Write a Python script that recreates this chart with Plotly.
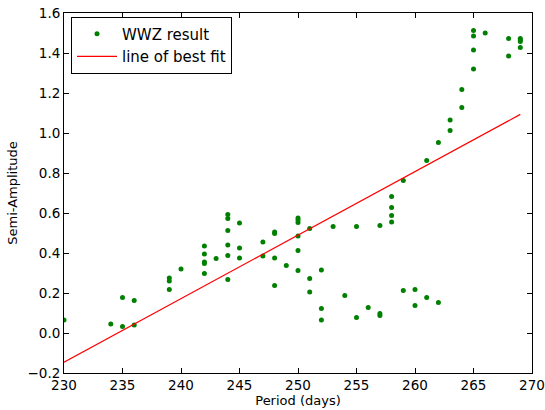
import plotly.graph_objects as go

period = [230, 234, 235, 235, 236, 236, 239, 239, 239, 240,
          242, 242, 242, 242, 242, 243,
          244, 244, 244, 244, 244, 244, 245, 245, 245,
          247, 247, 248, 248, 248, 248, 249,
          250, 250, 250, 250, 250, 250, 251, 251, 251,
          252, 252, 252, 253, 254, 255, 255,
          256, 257, 257, 257, 258, 258, 258, 258,
          259, 259, 260, 260, 261, 261, 262, 262,
          263, 263, 264, 264, 265, 265, 265, 265, 266,
          268, 268, 269, 269, 269, 269]
amplitude = [0.065, 0.045, 0.178, 0.032, 0.163, 0.04, 0.275, 0.26, 0.217, 0.32,
             0.435, 0.395, 0.355, 0.347, 0.297, 0.373,
             0.593, 0.573, 0.512, 0.44, 0.387, 0.268, 0.55, 0.425, 0.375,
             0.455, 0.385, 0.505, 0.498, 0.375, 0.238, 0.337,
             0.575, 0.565, 0.553, 0.485, 0.413, 0.312, 0.522, 0.272, 0.205,
             0.315, 0.122, 0.065, 0.532, 0.188, 0.532, 0.078,
             0.127, 0.537, 0.097, 0.088, 0.682, 0.627, 0.587, 0.555,
             0.763, 0.212, 0.218, 0.137, 0.863, 0.178, 0.952, 0.153,
             1.065, 1.012, 1.218, 1.128, 1.513, 1.485, 1.415, 1.32, 1.5,
             1.473, 1.385, 1.472, 1.465, 1.458, 1.427]

fit_x = [230, 269]
fit_y = [-0.146, 1.093]

x_ticks = [230, 235, 240, 245, 250, 255, 260, 265, 270]
y_ticks = [-0.2, 0.0, 0.2, 0.4, 0.6, 0.8, 1.0, 1.2, 1.4, 1.6]
y_tick_text = ["\u22120.2", "0.0", "0.2", "0.4", "0.6", "0.8", "1.0", "1.2", "1.4", "1.6"]

fig = go.Figure()
fig.add_trace(go.Scatter(x=period, y=amplitude, mode="markers", name="WWZ result",
                         marker=dict(color="green", size=5, line=dict(width=0))))
fig.add_trace(go.Scatter(x=fit_x, y=fit_y, mode="lines", name="line of best fit",
                         line=dict(color="red", width=1.2)))

font_family = "DejaVu Sans"
fig.update_layout(
    width=545, height=410,
    margin=dict(l=64, r=13, t=13, b=37, autoexpand=False),
    paper_bgcolor="white", plot_bgcolor="white",
    font=dict(family=font_family, size=13, color="black"),
    showlegend=True,
    legend=dict(x=0.015, y=0.99, xanchor="left", yanchor="top",
                bordercolor="black", borderwidth=1, bgcolor="white",
                font=dict(size=15), itemwidth=40, tracegroupgap=0),
    xaxis=dict(range=[230, 270], tickvals=x_ticks, ticks="inside", ticklen=5,
               tickcolor="black", showline=True, linecolor="black", linewidth=1,
               mirror="allticks", showgrid=False, zeroline=False, automargin=False,
               ticklabeloverflow="allow",
               title=dict(text="Period (days)", font=dict(size=13), standoff=0),
               tickfont=dict(size=13.5)),
    yaxis=dict(range=[-0.2, 1.6], tickvals=y_ticks, ticktext=y_tick_text,
               ticks="inside", ticklen=5, tickcolor="black", automargin=False,
               ticklabeloverflow="allow",
               showline=True, linecolor="black", linewidth=1, mirror="allticks",
               showgrid=False, zeroline=False,
               title=dict(text="Semi-Amplitude", font=dict(size=13), standoff=6),
               tickfont=dict(size=13.5)),
)

fig.write_html("out.html",
               config={"displayModeBar": False},
               post_script="document.body.style.margin='0';document.body.style.overflow='hidden';")
